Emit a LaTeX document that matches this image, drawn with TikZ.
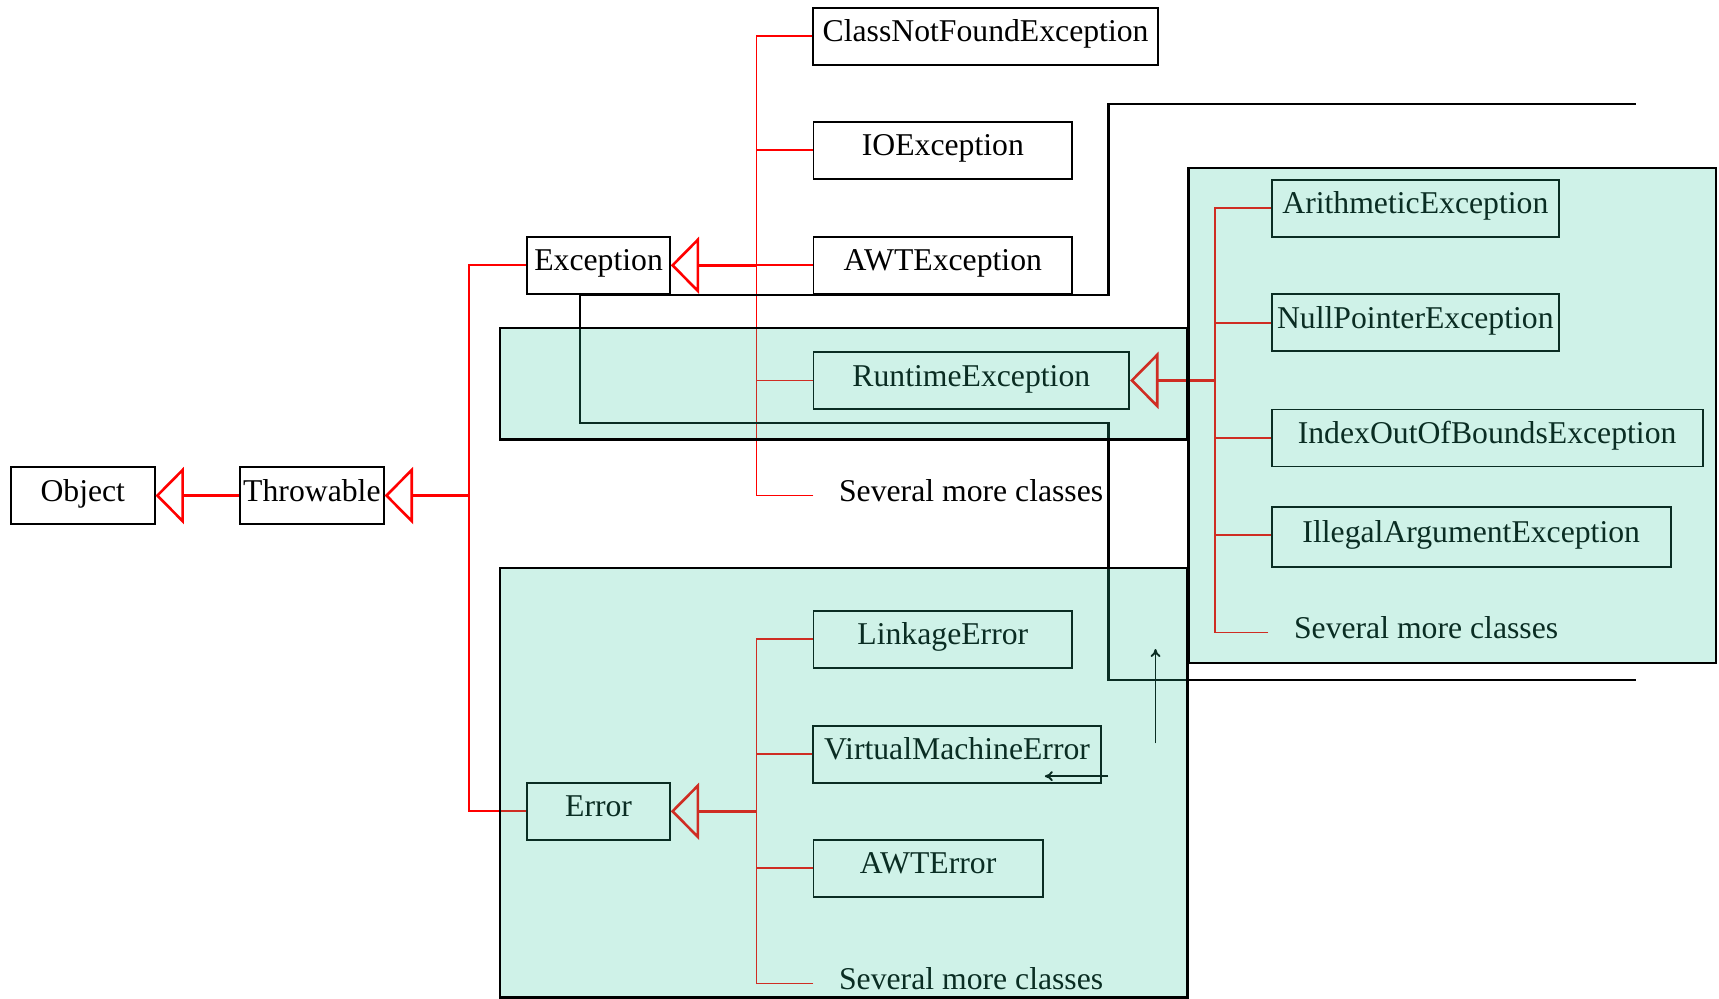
\documentclass[tikz,border=0pt]{standalone}
\usepackage{fontspec}
\setmainfont{Liberation Serif}
\usetikzlibrary{arrows.meta}
\definecolor{tealc}{RGB}{44,198,154}
\begin{document}
\begin{tikzpicture}[x=0.548pt,y=-0.548pt,
  font=\fontsize{15.85pt}{18pt}\selectfont,
  cls/.style={draw=black, line width=0.95pt, inner sep=0pt, minimum height=28.5pt, text height=0.72em, text depth=0.16em},
  more/.style={inner xsep=12.6pt, inner ysep=0pt, anchor=west, text height=0.72em, text depth=0.16em},
  gen/.style={draw=red, line width=1.3pt, -{Triangle[open,length=14.2pt,width=28.5pt]}},
  branch/.style={draw=red, line width=0.9pt},
  frame/.style={draw=black, line width=1.2pt},
  group/.style={draw=black, line width=1.2pt, fill=tealc, fill opacity=0.227},
  note/.style={draw=black, line width=0.95pt, -{To[length=4pt,width=5pt]}}]
\useasboundingbox (0,0) rectangle (1568,911);

% classes
\node[cls, minimum width=71.8pt] (obj) at (75.5,452) {Object};
\node[cls, minimum width=71.8pt] (thr) at (284.5,452) {Throwable};
\node[cls, minimum width=71.2pt] (exc) at (546,242) {Exception};
\node[cls, minimum width=172.1pt] (cnf) at (899,33) {ClassNotFoundException};
\node[cls, minimum width=129.3pt] (ioe) at (860,137) {IOException};
\node[cls, minimum width=129.3pt] (awt) at (860,242) {AWTException};
\node[cls, minimum width=157.8pt] (rte) at (886,347) {RuntimeException};
\node[more] (sev1) at (742,452) {Several more classes};
\node[cls, minimum width=71.2pt] (err) at (546,740) {Error};
\node[cls, minimum width=129.3pt] (lnk) at (860,583) {LinkageError};
\node[cls, minimum width=143.6pt] (vme) at (873,688) {VirtualMachineError};
\node[cls, minimum width=114.5pt] (awte) at (846.5,792) {AWTError};
\node[more] (sev2) at (742,897) {Several more classes};
\node[cls, minimum width=143.6pt] (ari) at (1291,190) {ArithmeticException};
\node[cls, minimum width=143.6pt] (npe) at (1291,294.5) {NullPointerException};
\node[cls, minimum width=215.4pt] (ioob) at (1356.5,399.5) {IndexOutOfBoundsException};
\node[cls, minimum width=199.5pt, minimum height=30pt] (iae) at (1342,489.5) {IllegalArgumentException};
\node[more] (sev3) at (1157,577) {Several more classes};

% junctions
\coordinate (j0) at (428,452);
\coordinate (j1) at (690,242);
\coordinate (j2) at (690,740);
\coordinate (j3) at (1108,347);

% inheritance
\draw[gen] (thr) -- (obj);
\draw[gen] (j0) -- (thr);
\draw[branch] (exc.west) -| (j0);
\draw[branch] (err.west) -| (j0);

\draw[gen] (j1) -- (exc);
\draw[branch] (cnf.west) -| (j1);
\draw[branch] (ioe.west) -| (j1);
\draw[branch] (awt.west) -- (j1);
\draw[branch] (rte.west) -| (j1);
\draw[branch] (sev1.west) -| (j1);

\draw[gen] (j2) -- (err);
\draw[branch] (lnk.west) -| (j2);
\draw[branch] (vme.west) -| (j2);
\draw[branch] (awte.west) -| (j2);
\draw[branch] (sev2.west) -| (j2);

\draw[gen] (j3) -- (rte);
\draw[branch] (ari.west) -| (j3);
\draw[branch] (npe.west) -| (j3);
\draw[branch] (ioob.west) -| (j3);
\draw[branch] ([yshift=1pt]iae.west) -| (j3);
\draw[branch] (sev3.west) -| (j3);

% black frame line
\coordinate (p1) at (1492,95);
\coordinate (p2) at (1011,95);
\coordinate (p3) at (1011,269);
\coordinate (p4) at (529,269);
\coordinate (p5) at (529,386);
\coordinate (p6) at (1011,386);
\coordinate (p7) at (1011,620);
\coordinate (p8) at (1492,620);
\draw[frame] (p1) -- (p2) -- (p3) -- (p4) -- (p5) -- (p6) -- (p7) -- (p8);

% small arrows
\coordinate (u1) at (1054,678);
\coordinate (u2) at (1054,592);
\coordinate (l1) at (1011,708);
\coordinate (l2) at (953,708);
\draw[note] (u1) -- (u2);
\draw[note] (l1) -- (l2);

% shaded groups
\draw[group] (456,299) rectangle (1083,401);
\draw[group] (456,518) rectangle (1083,910);
\draw[group] (1084,153) rectangle (1565,605);
\end{tikzpicture}
\end{document}
